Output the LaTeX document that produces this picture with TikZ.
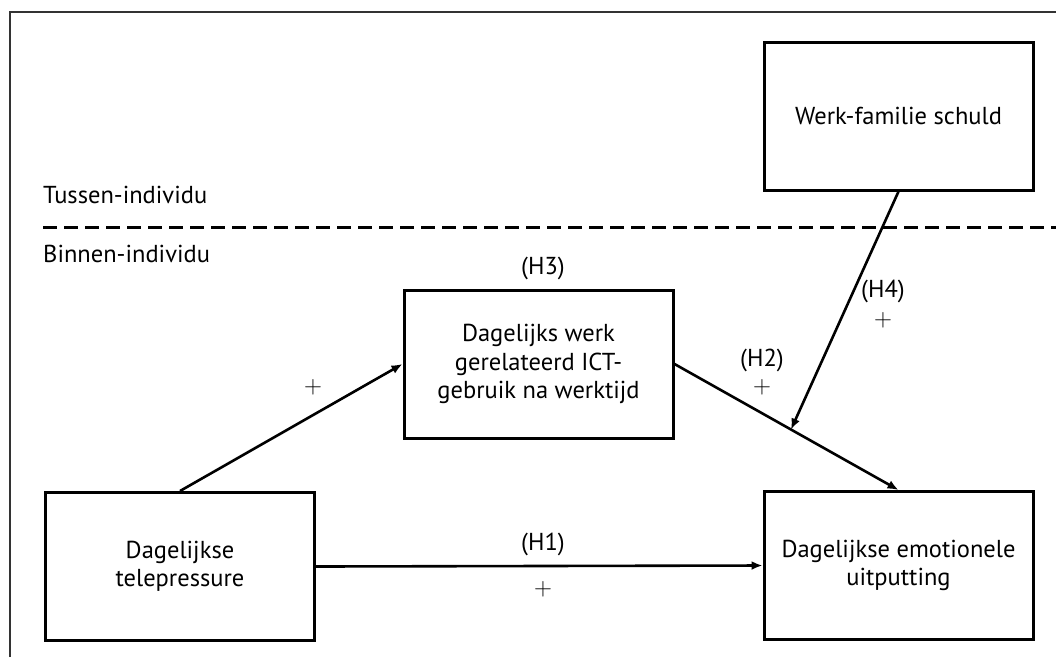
\documentclass[tikz,border=0pt]{standalone}
\usepackage{fontspec}
\setmainfont{PT Sans}
\usepackage{tikz}
\usetikzlibrary{arrows.meta,calc}

\tikzset{
  varbox/.style={draw=black,line width=3pt,minimum width=269pt,minimum height=148pt,
    align=center,inner sep=4pt,font=\fontsize{24.5}{28.5}\selectfont},
  pathlink/.style={line width=2.6pt,-{Latex[length=11pt,width=9pt]}},
  effectlabel/.style={inner sep=0pt,font=\fontsize{24.5}{28.5}\selectfont},
  levellabel/.style={inner sep=0pt,anchor=base west,font=\fontsize{24.5}{28.5}\selectfont}
}

\begin{document}
\begin{tikzpicture}[x=1pt,y=-1pt]
  \useasboundingbox (0,0) rectangle (1056,657);
  \draw[line width=1.2pt,black!80] (10,657) -- (10,12) -- (1056,12);

  \node[levellabel] (tussen) at (43,203) {Tussen-individu};
  \node[levellabel] (binnen) at (43,262) {Binnen-individu};
  \coordinate (splitL) at (43,227);
  \coordinate (splitR) at (1056,227);
  \draw[line width=3pt,dash pattern=on 14pt off 7pt] (splitL) -- (splitR);

  \node[varbox] (tele) at (180,566.5) {Dagelijkse\\telepressure};
  \node[varbox] (ict) at (538.5,364) {Dagelijks werk\\gerelateerd ICT-\\gebruik na werktijd};
  \node[varbox] (uitput) at (898.5,565.5) {Dagelijkse emotionele\\uitputting};
  \node[varbox] (schuld) at (898.5,116) {Werk-familie schuld};

  \draw[pathlink] (tele.north) -- (ict.west);
  \draw[pathlink] (tele.east) -- (uitput.west);
  \draw[pathlink] (ict.east) -- (uitput.north);
  \coordinate (moderate) at ($(ict.east)!0.52!(uitput.north)$);
  \draw[pathlink] (schuld.south) -- (moderate);

  \node[effectlabel] (plusA) at (313,387) {$+$};
  \node[effectlabel] (hthree) at (543,268) {(H3)};
  \node[effectlabel] (hone) at (543,544) {(H1)};
  \node[effectlabel] (plusB) at (543,589) {$+$};
  \node[effectlabel] (htwo) at (762,360) {(H2)};
  \node[effectlabel] (plusC) at (762,387) {$+$};
  \node[effectlabel] (hfour) at (883,291) {(H4)};
  \node[effectlabel] (plusD) at (883,320) {$+$};
\end{tikzpicture}
\end{document}
